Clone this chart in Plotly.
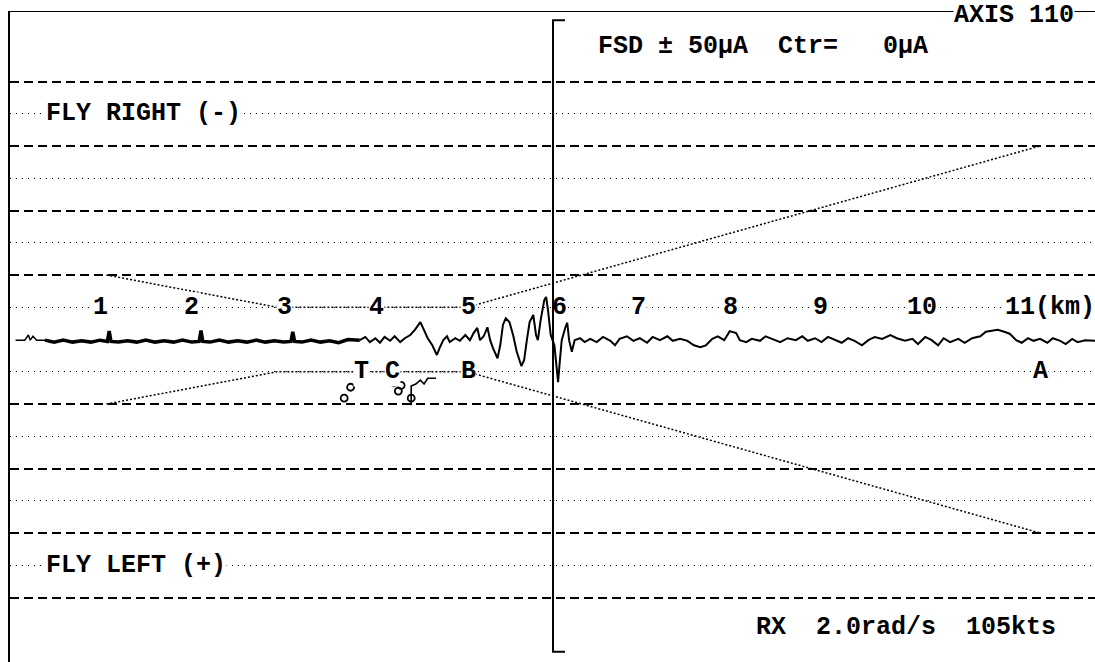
import plotly.graph_objects as go

# ---------------- data ----------------
# distance labels printed along the -5 uA dotted line (km)
km_label_text = ["1", "2", "3", "4", "5", "6", "7", "8", "9", "10"]
km_label_x = [1.00, 2.00, 3.01, 4.01, 5.01, 6.01, 6.87, 7.87, 8.85, 9.95]
km_last_text = "11(km)"
km_last_x = 10.85

# grid levels (uA): dashed every 10, dotted in between
dashed_levels = [-40, -30, -20, -10, 10, 20, 30, 40]
dotted_levels = [-35, -25, -15, -5, 5, 15, 25, 35]

# tolerance envelope (km, +/- uA)
env_km = [1.07, 2.93, 5.00, 11.24]
env_ua = [10, 5, 5, 30]

# DDM recording (uA, + = fly left)
lead_km = [0.08, 0.18, 0.22, 0.24, 0.27, 0.31, 0.40]
lead_ua = [0.1, 0.1, -0.7, 0.1, -0.5, 0.1, 0.1]

quiet_km = [0.40, 0.50, 0.60, 0.70, 0.80, 0.90, 1.00,
            1.08, 1.10, 1.12,
            1.20, 1.30, 1.40, 1.50, 1.60, 1.70, 1.80, 1.90, 2.00,
            2.08, 2.10, 2.12,
            2.20, 2.30, 2.40, 2.50, 2.60, 2.70, 2.80, 2.90, 3.00,
            3.08, 3.10, 3.12,
            3.20, 3.30, 3.40, 3.50, 3.60, 3.70, 3.83]
quiet_ua = [0.1, 0.4, 0.1, 0.4, 0.2, 0.4, 0.1,
            0.3, -1.3, 0.3,
            0.4, 0.2, 0.4, 0.1, 0.4, 0.2, 0.4, 0.1, 0.4,
            0.3, -1.4, 0.3,
            0.4, 0.1, 0.4, 0.2, 0.4, 0.1, 0.4, 0.2, 0.4,
            0.3, -1.2, 0.3,
            0.4, 0.1, 0.4, 0.2, 0.5, 0.0, 0.1]

main_km = [3.83, 3.89, 3.94, 4.00, 4.05, 4.10, 4.16, 4.21,
           4.27, 4.32, 4.38, 4.43, 4.49, 4.53, 4.57, 4.62,
           4.67, 4.70, 4.74, 4.78, 4.81, 4.87, 4.92, 4.98,
           5.03, 5.07, 5.11, 5.14, 5.18, 5.22, 5.25, 5.28,
           5.33, 5.36, 5.39, 5.42, 5.46, 5.50, 5.54, 5.59,
           5.62, 5.65, 5.68, 5.72, 5.75, 5.77, 5.80, 5.84,
           5.86, 5.88, 5.91, 5.95, 5.97, 5.99, 6.01, 6.03,
           6.07, 6.09, 6.11, 6.14, 6.17, 6.23, 6.28, 6.34,
           6.41, 6.48, 6.56, 6.61, 6.66, 6.74, 6.81, 6.88,
           6.96, 7.02, 7.10, 7.18, 7.24, 7.32, 7.40, 7.47,
           7.54, 7.60, 7.67, 7.73, 7.80, 7.86, 7.93, 7.97,
           8.04, 8.10, 8.19, 8.25, 8.32, 8.41, 8.49, 8.58,
           8.65, 8.71, 8.79, 8.86, 8.93, 9.01, 9.08, 9.15,
           9.22, 9.30, 9.37, 9.44, 9.52, 9.61, 9.68, 9.77,
           9.85, 9.91, 9.99, 10.06, 10.13, 10.19, 10.26, 10.35,
           10.42, 10.50, 10.59, 10.65, 10.72, 10.78, 10.85, 10.91,
           10.98, 11.04, 11.11, 11.17, 11.24, 11.32, 11.38, 11.46,
           11.52, 11.59, 11.65, 11.73, 11.84]
main_ua = [0.1, -0.4, 0.4, -0.2, 0.5, -0.4, 0.2, -0.5,
           0.4, -0.2, -0.7, -1.5, -2.7, -1.5, -0.2, 0.9,
           2.4, 1.3, 0.1, -0.5, 0.4, -0.2, 0.2, -0.7,
           0.1, -1.0, -1.8, 0.1, -0.5, -1.9, 0.1, 1.3,
           2.9, 0.9, -2.3, -3.3, -2.7, -0.7, 1.9, 4.1,
           3.2, 0.1, -2.7, -3.8, -0.7, 0.1, -3.0, -6.1,
           -6.6, -4.6, -0.7, 0.9, 4.0, 6.6, 3.2, 0.1,
           -1.9, -2.6, 0.1, 1.9, 0.1, -0.2, 0.4, -0.1,
           0.4, -0.4, 0.2, 0.9, -0.1, -0.5, 0.2, -0.2,
           0.5, -0.4, 0.1, -0.5, 0.2, -0.1, 0.2, 0.9,
           1.2, 0.9, -0.1, -0.5, 0.1, -1.3, -1.0, 0.1,
           0.4, -0.1, 0.2, -0.5, -0.1, 0.4, -0.2, 0.1,
           -0.5, 0.2, -0.2, 0.4, -0.4, 0.1, 0.5, -0.2,
           0.2, 0.9, 0.1, -0.4, -0.1, -0.7, -0.2, 0.2,
           -0.1, 0.7, -0.4, 0.1, 0.9, -0.2, 0.4, -0.1,
           0.5, -0.2, -0.5, -1.2, -1.3, -1.5, -1.2, -0.9,
           0.1, 0.5, -0.2, 0.2, -0.1, 0.5, -0.2, 0.2,
           0.7, -0.1, 0.4, 0.1, 0.2]

# event letters on the +5 uA line
event_text = ["T", "C", "B", "A"]
event_km = [3.85, 4.19, 5.01, 11.24]
event_ua = [5, 5, 5, 5]

# small event symbols near T / C
sym_km = [3.66, 3.73, 4.20, 4.25, 4.28, 4.39]
sym_ua = [9.1, 7.4, 6.7, 8.0, 7.1, 9.1]
hook_km = [4.39, 4.39, 4.44, 4.49, 4.53, 4.57, 4.66]
hook_ua = [10.2, 7.2, 6.9, 6.3, 6.9, 6.0, 6.0]

# threshold marker (vertical line with brackets)
marker_km = 5.935
marker_top = -49.5
marker_bottom = 48.4
bracket_len = 0.13

# header / footer texts
fsd_text = "FSD ± 50µA\u00a0\u00a0Ctr=\u00a0\u00a0\u00a00µA"
axis_text = "AXIS 110"
rx_text = "RX\u00a0\u00a02.0rad/s\u00a0\u00a0105kts"
fly_right_text = "FLY RIGHT (-)"
fly_left_text = "FLY LEFT (+)"

# ---------------- figure ----------------
X_RANGE = [0.0196, 11.839]
Y_RANGE = [50.0, -50.78]
FONT = dict(family="Liberation Mono, DejaVu Sans Mono, monospace", size=25,
            color="black", weight="bold")

fig = go.Figure()

env_style = dict(color="black", width=1.5, dash="2px,2px")
fig.add_trace(go.Scatter(x=env_km, y=[-v for v in env_ua], mode="lines",
                         line=env_style, yaxis="y2"))
fig.add_trace(go.Scatter(x=env_km, y=env_ua, mode="lines",
                         line=env_style, yaxis="y2"))

fig.add_trace(go.Scatter(x=lead_km, y=lead_ua, mode="lines",
                         line=dict(color="black", width=1.5)))
fig.add_trace(go.Scatter(x=quiet_km, y=quiet_ua, mode="lines",
                         line=dict(color="black", width=3.5)))
fig.add_trace(go.Scatter(x=main_km, y=main_ua, mode="lines",
                         line=dict(color="black", width=2)))

fig.add_trace(go.Scatter(
    x=[marker_km + bracket_len, marker_km, marker_km, marker_km + bracket_len],
    y=[marker_top, marker_top, marker_bottom, marker_bottom],
    mode="lines", line=dict(color="black", width=2)))

fig.add_trace(go.Scatter(x=sym_km, y=sym_ua, mode="markers",
                         marker=dict(symbol="circle-open", size=7, color="black",
                                     line=dict(width=1.8, color="black"))))
fig.add_trace(go.Scatter(x=hook_km, y=hook_ua, mode="lines",
                         line=dict(color="black", width=1.6)))

annotations = []


def add_text(text, x, y, xanchor="center", bg="white"):
    annotations.append(dict(text=text, x=x, y=y, xref="x", yref="y",
                            xanchor=xanchor, yanchor="middle", showarrow=False,
                            bgcolor=bg, borderpad=0, font=FONT))


for t, x in zip(km_label_text, km_label_x):
    add_text(t, x, -5, bg="rgba(0,0,0,0)" if t == "6" else "white")
add_text(km_last_text, km_last_x, -5, xanchor="left")

for t, x, y in zip(event_text, event_km, event_ua):
    add_text(t, x, y)

add_text(fly_right_text, 0.40, -35, xanchor="left")
add_text(fly_left_text, 0.40, 35, xanchor="left")
add_text(fsd_text, 6.41, -45.4, xanchor="left", bg="rgba(0,0,0,0)")
add_text(axis_text, 11.62, -50.3, xanchor="right")
add_text(rx_text, 8.135, 44.6, xanchor="left", bg="rgba(0,0,0,0)")

fig.update_layout(
    width=1095, height=662,
    margin=dict(l=10, r=0, t=12, b=0),
    paper_bgcolor="white", plot_bgcolor="white",
    showlegend=False, hovermode=False,
    annotations=annotations,
    xaxis=dict(range=X_RANGE, showgrid=False, zeroline=False,
               showticklabels=False, ticks="", showline=True,
               linecolor="black", linewidth=1.5, side="top"),
    yaxis=dict(range=Y_RANGE, tickvals=dashed_levels, showgrid=True,
               gridcolor="black", gridwidth=2, griddash="9px,5px",
               showticklabels=False, ticks="", zeroline=False,
               showline=True, linecolor="black", linewidth=2.5),
    yaxis2=dict(range=Y_RANGE, overlaying="y", tickvals=dotted_levels,
                showgrid=True, gridcolor="black", gridwidth=1.3,
                griddash="1px,5px", showticklabels=False, ticks="",
                zeroline=False, showline=False),
)

fig.write_html("out.html", config={"displayModeBar": False, "staticPlot": True},
               post_script="document.body.style.margin='0';"
                           "document.body.style.overflow='hidden';")
